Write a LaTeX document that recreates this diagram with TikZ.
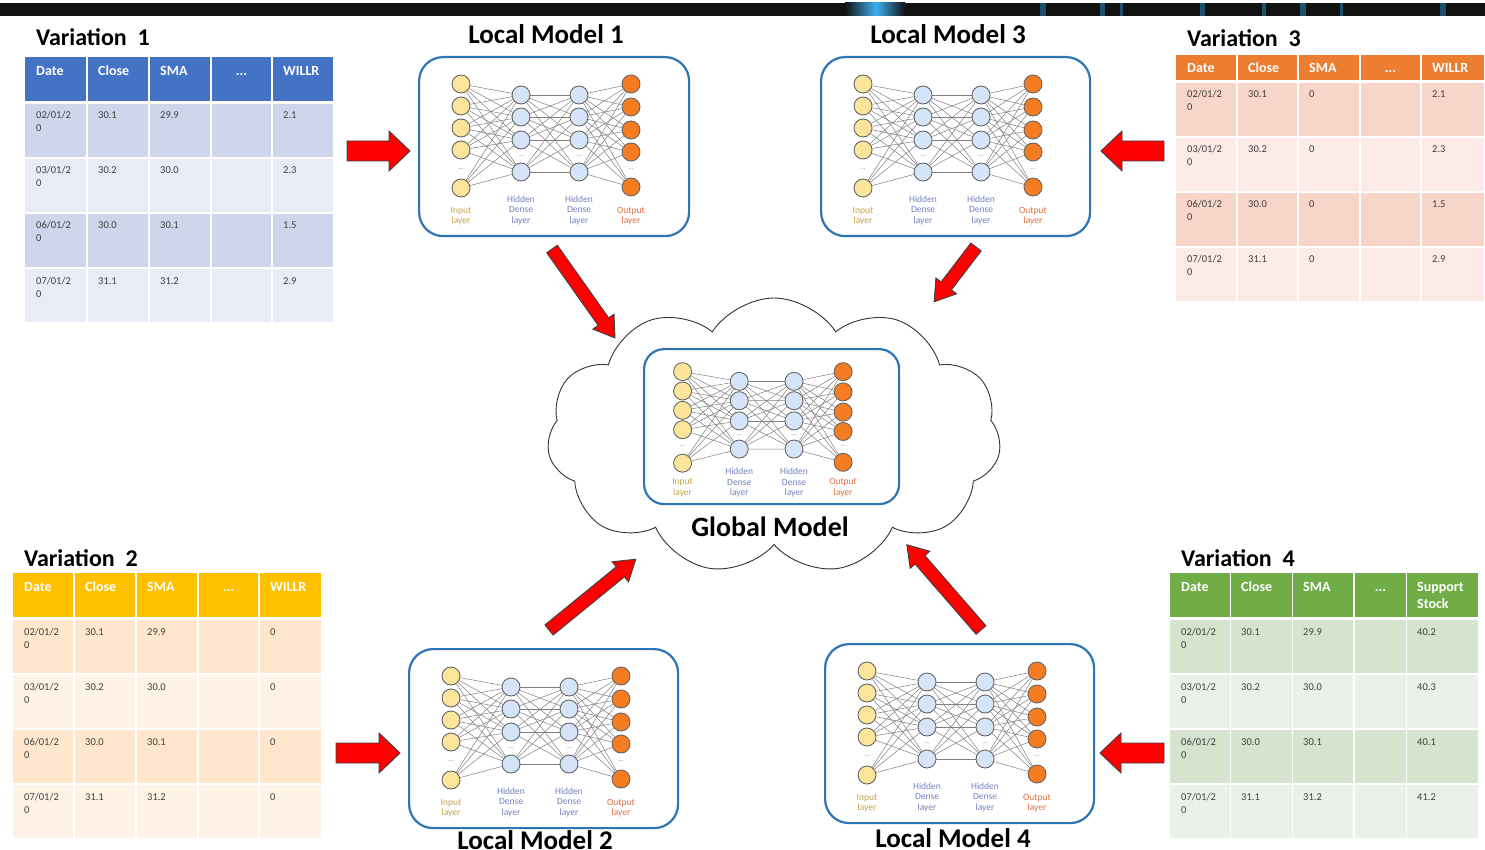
\documentclass[tikz,border=0pt]{standalone}
\usepackage{fontspec}
\setmainfont{Carlito}
\usetikzlibrary{shapes.symbols}
\pgfdeclarelayer{bg}
\pgfdeclarelayer{edges}
\pgfsetlayers{bg,edges,main}

\definecolor{boxblue}{HTML}{2E75B6}
\definecolor{inyellow}{HTML}{FCE59A}
\definecolor{hidblue}{HTML}{D6E4FA}
\definecolor{outorange}{HTML}{F57C20}
\definecolor{inlbl}{HTML}{C4A24C}
\definecolor{hidlbl}{HTML}{7580C0}
\definecolor{outlbl}{HTML}{E07040}
\definecolor{bodygray}{HTML}{404040}
\definecolor{aHdr}{HTML}{4472C4}\definecolor{aOdd}{HTML}{CFD5EA}\definecolor{aEven}{HTML}{E9EBF5}
\definecolor{bHdr}{HTML}{FFC000}\definecolor{bOdd}{HTML}{FFE6CC}\definecolor{bEven}{HTML}{FFF3E7}
\definecolor{cHdr}{HTML}{ED7D31}\definecolor{cOdd}{HTML}{F7D5C9}\definecolor{cEven}{HTML}{FBEAE5}
\definecolor{dHdr}{HTML}{70AD47}\definecolor{dOdd}{HTML}{D5E3CF}\definecolor{dEven}{HTML}{EBF1E9}
\definecolor{glow}{HTML}{3FB0F0}

\tikzset{
  neuron/.style={circle, draw=black!60, line width=0.9pt, minimum size=18pt, inner sep=0pt},
  inneuron/.style={neuron, fill=inyellow},
  hidneuron/.style={neuron, fill=hidblue},
  outneuron/.style={neuron, fill=outorange},
  nnedge/.style={draw=black!50, line width=0.5pt},
  nndots/.style={font=\fontsize{7}{7}\selectfont, text=black!45, inner sep=0pt},
  lbl/.style={align=center, font=\fontsize{9.5}{10.5}\selectfont, inner sep=0pt},
  mbox/.style={draw=boxblue, line width=2.2pt, rounded corners=24pt, inner sep=0pt, anchor=north west},
  ttl/.style={font=\fontsize{27}{32}\selectfont\bfseries, inner sep=0pt, anchor=base},
  vttl/.style={font=\fontsize{24}{28}\selectfont\bfseries, inner sep=0pt, anchor=base west},
  tcell/.style={draw=none, inner sep=0pt, anchor=north west},
  htext/.style={font=\fontsize{14}{16}\selectfont\bfseries, text=white, inner sep=0pt, anchor=base west},
  btext/.style={font=\fontsize{10.5}{12}\selectfont, text=bodygray, inner sep=0pt, anchor=base west},
  redblock/.style={fill=red, draw=black!75, line width=0.9pt, line join=miter},
}

% neural network drawn relative to its box's top-left corner
\newcommand{\nnet}[1]{%
  \foreach \yy [count=\i] in {28,50,72,94,132} \node[inneuron] (#1i\i) at (43,\yy) {};
  \foreach \yy [count=\i] in {39,61,84,116} {
    \node[hidneuron] (#1a\i) at (103,\yy) {};
    \node[hidneuron] (#1b\i) at (161,\yy) {};
  }
  \foreach \yy [count=\i] in {28,51,74,96,131} \node[outneuron] (#1o\i) at (213,\yy) {};
  \begin{pgfonlayer}{edges}
    \foreach \i in {1,...,5} \foreach \j in {1,...,4} \draw[nnedge] (#1i\i) -- (#1a\j);
    \foreach \i in {1,...,4} \foreach \j in {1,...,4} \draw[nnedge] (#1a\i) -- (#1b\j);
    \foreach \i in {1,...,4} \foreach \j in {1,...,5} \draw[nnedge] (#1b\i) -- (#1o\j);
  \end{pgfonlayer}
  \node[nndots] (#1d1) at (43,113) {...};
  \node[nndots] (#1d2) at (103,100) {...};
  \node[nndots] (#1d3) at (161,100) {...};
  \node[nndots] (#1d4) at (213,113) {...};
  \node[lbl, text=inlbl] (#1l1) at (43,160) {Input\\layer};
  \node[lbl, text=hidlbl] (#1l2) at (103,154) {Hidden\\Dense\\layer};
  \node[lbl, text=hidlbl] (#1l3) at (161,154) {Hidden\\Dense\\layer};
  \node[lbl, text=outlbl] (#1l4) at (213,160) {Output\\layer};
}

% table: #1 prefix, #2 x0, #3 y0, #4 header height, #5 hdr, #6 odd, #7 even, #8 rows, #9 last header
\newcommand{\vartable}[9]{%
  \foreach \cx/\cw [count=\ci] in \colspec {
    \node[tcell, fill=#5, minimum width=\cw pt, minimum height=#4pt] (#1h\ci) at (#2+\cx,#3) {};
    \foreach \rr in {1,2,3,4} {
      \ifodd\rr\relax\def\rc{#6}\else\def\rc{#7}\fi
      \node[tcell, fill=\rc, minimum width=\cw pt, minimum height=53pt] (#1r\rr c\ci) at (#2+\cx,#3+#4+3+55*\rr-55) {};
    }
  }
  \pgfmathsetmacro\hb{min(18.5,#4/2+5)}
  \node[htext] (#1t1) at (#2+11,#3+\hb) {Date};
  \node[htext] (#1t2) at (#2+\colB+10,#3+\hb) {Close};
  \node[htext] (#1t3) at (#2+\colC+10,#3+\hb) {SMA};
  \node[htext, anchor=base] (#1t4) at (#2+\colD+\wD/2,#3+\hb) {...};
  \node[htext] (#1t5) at (#2+\colE+10,#3+\hb) {#9};
  \foreach \tdd/\tcl/\tsm/\tla [count=\ri] in {#8} {
    \pgfmathsetmacro\by{#3+#4+3+55*(\ri-1)+15}
    \node[btext] (#1d\ri a) at (#2+11,\by) {\tdd/01/2};
    \node[btext] (#1d\ri b) at (#2+11,\by+13) {0};
    \node[btext] (#1c\ri) at (#2+\colB+10,\by) {\tcl};
    \node[btext] (#1s\ri) at (#2+\colC+10,\by) {\tsm};
    \node[btext] (#1w\ri) at (#2+\colE+10,\by) {\tla};
  }
}

% block arrow: #1 start coordinate, #2 angle, #3 length, #4 shaft half width, #5 head half width, #6 head length
\newcommand{\redarrow}[6]{%
  \begin{scope}[shift={(#1)}, rotate=#2]
    \filldraw[redblock] (0,-#4) -- (#3-#6,-#4) -- (#3-#6,-#5) -- (#3,0) -- (#3-#6,#5) -- (#3-#6,#4) -- (0,#4) -- cycle;
  \end{scope}
}

\begin{document}
\begin{tikzpicture}[x=1pt,y=-1pt]
\useasboundingbox (0,0) rectangle (1485,850);
\begin{pgfonlayer}{bg}
  \fill[white] (0,0) rectangle (1485,850);
\end{pgfonlayer}

% top bar
\fill[black!93] (0,3) rectangle (1485,16);
\shade[left color=black!93, right color=glow] (845,3) rectangle (876,16);
\shade[left color=glow, right color=black!93] (876,3) rectangle (905,16);
\foreach \sx/\sw in {1040/6,1100/5,1120/3,1200/5,1262/4,1300/6,1340/3,1440/6} {
  \fill[glow!45!black] (\sx,3) rectangle (\sx+\sw,16);
}

% titles
\node[vttl] (v1) at (36,46) {Variation\ \ 1};
\node[vttl] (v3) at (1187,47) {Variation\ \ 3};
\node[vttl] (v2) at (24,566) {Variation\ \ 2};
\node[vttl] (v4) at (1181,566) {Variation\ \ 4};
\node[ttl] (t1) at (546,44) {Local Model 1};
\node[ttl] (t3) at (948,44) {Local Model 3};
\node[ttl] (t2) at (535,849) {Local Model 2};
\node[ttl] (t4) at (953,847) {Local Model 4};

% tables
\def\colspec{0/61,63/60,125/60,187/59,248/60}
\def\colB{63}\def\colC{125}\def\colD{187}\def\wD{59}\def\colE{248}
\vartable{ta}{25}{57}{44}{aHdr}{aOdd}{aEven}{02/30.1/29.9/2.1,03/30.2/30.0/2.3,06/30.0/30.1/1.5,07/31.1/31.2/2.9}{WILLR}

\def\colspec{0/60,62/60,124/60,186/59,247/61}
\def\colB{62}\def\colC{124}\def\colD{186}\def\wD{59}\def\colE{247}
\vartable{tb}{13}{573}{44}{bHdr}{bOdd}{bEven}{02/30.1/29.9/0,03/30.2/30.0/0,06/30.0/30.1/0,07/31.1/31.2/0}{WILLR}

\def\colspec{0/60,62/59,123/60,185/59,246/62}
\def\colB{62}\def\colC{123}\def\colD{185}\def\wD{59}\def\colE{246}
\vartable{tc}{1176}{55}{25}{cHdr}{cOdd}{cEven}{02/30.1/0/2.1,03/30.2/0/2.3,06/30.0/0/1.5,07/31.1/0/2.9}{WILLR}

\def\colspec{0/60,61/61,123/60,185/51,237/71}
\def\colB{61}\def\colC{123}\def\colD{185}\def\wD{51}\def\colE{237}
\vartable{td}{1170}{573}{44}{dHdr}{dOdd}{dEven}{02/30.1/29.9/40.2,03/30.2/30.0/40.3,06/30.0/30.1/40.1,07/31.1/31.2/41.2}{Support}
\node[htext] (td6) at (1170+237+10,573+35.5) {Stock};

% cloud and global model
\node[cloud, cloud puffs=11, cloud puff arc=115, cloud ignores aspect, draw=black!80, line width=0.9pt,
      minimum width=454pt, minimum height=276pt] (cloud) at (774,436) {};
\node[mbox, rounded corners=20pt, minimum width=255pt, minimum height=155pt] (gm) at (643,348) {};
\begin{scope}[shift={(642,347)}, xscale=0.944, yscale=0.88]
  \nnet{g}
\end{scope}
\node[ttl, font=\fontsize{28}{32}\selectfont\bfseries] (gt) at (770,536) {Global Model};

% local models
\node[mbox, minimum width=270pt, minimum height=179pt] (lm1) at (418,56) {};
\begin{scope}[shift={(418,56)}] \nnet{ma} \end{scope}
\node[mbox, minimum width=269pt, minimum height=179pt] (lm3) at (820,56) {};
\begin{scope}[shift={(820,56)}] \nnet{mc} \end{scope}
\node[mbox, minimum width=269pt, minimum height=179pt] (lm2) at (408,648) {};
\begin{scope}[shift={(408,648)}] \nnet{mb} \end{scope}
\node[mbox, minimum width=269pt, minimum height=179pt] (lm4) at (824,643) {};
\begin{scope}[shift={(824,643)}] \nnet{md} \end{scope}

% arrows
\coordinate (a1) at (347,151);
\coordinate (a3) at (1164,151);
\coordinate (a2) at (336,753);
\coordinate (a4) at (1164,753);
\redarrow{a1}{0}{63}{10}{20}{21}
\redarrow{a3}{180}{63}{10}{20}{21}
\redarrow{a2}{0}{64}{10}{20}{21}
\redarrow{a4}{180}{64}{10}{20}{21}
\coordinate (d1) at (552,249);
\coordinate (d3) at (976,247);
\coordinate (d2) at (549,630);
\coordinate (d4) at (981,630);
\redarrow{d1}{-54.7}{109}{6.5}{13}{20}
\redarrow{d3}{-127.4}{69}{6.5}{13}{20}
\redarrow{d2}{39.2}{112}{6.5}{13}{20}
\redarrow{d4}{131}{113}{6.5}{13}{20}
\end{tikzpicture}
\end{document}
